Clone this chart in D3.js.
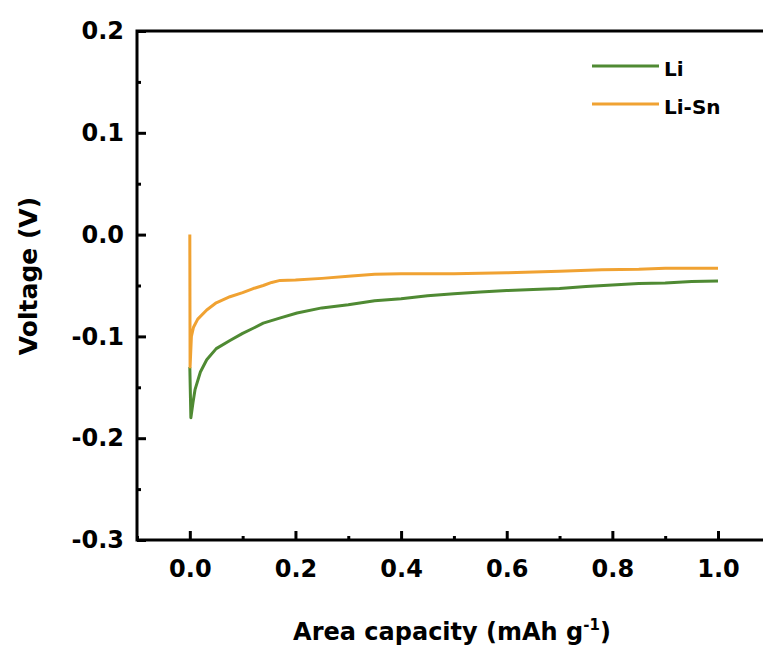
<!DOCTYPE html>
<head>
  <meta charset="utf-8">
  <style>
    body { margin: 0; background: #fff; }
    .axis path, .axis line { stroke: #000; stroke-width: 3; }
    .axis text { font-family: "DejaVu Sans", sans-serif; font-weight: bold; font-size: 24px; fill: #000; }
    .label { font-family: "DejaVu Sans", sans-serif; font-weight: bold; font-size: 24px; fill: #000; }
  </style>
  <script src="https://d3js.org/d3.v7.min.js" charset="utf-8"></script>
</head>
<body>
  <script>

    // Li (green)
    const liX = [0, 0.002, 0.006, 0.01, 0.02, 0.032, 0.05, 0.076, 0.1, 0.12, 0.139, 0.17, 0.203, 0.25, 0.3, 0.35,
                 0.4, 0.45, 0.5, 0.55, 0.6, 0.65, 0.7, 0.75, 0.8, 0.85, 0.9, 0.95, 1.0];
    const liY = [-0.13, -0.18, -0.165, -0.152, -0.135, -0.123, -0.112, -0.104, -0.097, -0.092, -0.087, -0.082, -0.077,
                 -0.072, -0.069, -0.065, -0.063, -0.060, -0.058, -0.0565, -0.055, -0.054, -0.053,
                 -0.051, -0.0495, -0.048, -0.0475, -0.046, -0.0455];

    // Li-Sn (orange)
    const snX = [0, 0.0005, 0.003, 0.007, 0.015, 0.032, 0.05, 0.076, 0.1, 0.12, 0.139, 0.155, 0.171, 0.2, 0.25, 0.3,
                 0.35, 0.4, 0.5, 0.6, 0.7, 0.78, 0.85, 0.9, 1.0];
    const snY = [0.0, -0.13, -0.10, -0.091, -0.083, -0.074, -0.067, -0.061, -0.057, -0.053, -0.050, -0.047, -0.045,
                 -0.0445, -0.043, -0.041, -0.039, -0.0385, -0.0385, -0.0375, -0.036, -0.0345, -0.034,
                 -0.033, -0.033];

    const seriesNames = ['Li', 'Li-Sn'];
    const seriesColors = ['#4f8a33', '#f0a232'];
    const xTicks = [0, 0.2, 0.4, 0.6, 0.8, 1.0];
    const yTicks = [0.2, 0.1, 0.0, -0.1, -0.2, -0.3];

    const w = 763, h = 651;
    const mLeft = 137, mTop = 31, mBottom = 540;

    // plain hyphen for negatives, as in the original
    const fmt = d => d.toFixed(1).replace('\u2212', '-');

    const svg = d3.select('body').append('svg')
      .attr('width', w)
      .attr('height', h);

    const xScale = d3.scaleLinear().domain([-0.1, 1.0]).range([mLeft, 718]);
    const yScale = d3.scaleLinear().domain([-0.3, 0.2]).range([mBottom, mTop]);
    const mRight = xScale(1.1);

    // frame (right side falls outside the picture)
    svg.append('rect')
      .attr('x', mLeft).attr('y', mTop)
      .attr('width', mRight - mLeft).attr('height', mBottom - mTop)
      .attr('fill', 'none').attr('stroke', '#000').attr('stroke-width', 3);

    // minor ticks
    const xMinor = [-0.1, 0.1, 0.3, 0.5, 0.7, 0.9];
    svg.append('g').attr('class', 'axis')
      .attr('transform', `translate(0, ${mBottom})`)
      .call(d3.axisBottom(xScale).tickValues(xMinor).tickSize(-4).tickFormat(''))
      .call(g => g.select('.domain').remove());
    const yMinor = [0.15, 0.05, -0.05, -0.15, -0.25];
    svg.append('g').attr('class', 'axis')
      .attr('transform', `translate(${mLeft}, 0)`)
      .call(d3.axisLeft(yScale).tickValues(yMinor).tickSize(-4).tickFormat(''))
      .call(g => g.select('.domain').remove());

    const xAxis = d3.axisBottom(xScale).tickValues(xTicks).tickSize(-9).tickPadding(20)
      .tickFormat(fmt);
    svg.append('g').attr('class', 'x axis')
      .attr('transform', `translate(0, ${mBottom})`)
      .call(xAxis)
      .call(g => g.select('.domain').remove());

    const yAxis = d3.axisLeft(yScale).tickValues(yTicks).tickSize(-9).tickPadding(13)
      .tickFormat(fmt);
    svg.append('g').attr('class', 'y axis')
      .attr('transform', `translate(${mLeft}, 0)`)
      .call(yAxis)
      .call(g => g.select('.domain').remove());

    const line = d3.line().x(d => xScale(d[0])).y(d => yScale(d[1]));
    const series = [d3.zip(liX, liY), d3.zip(snX, snY)];

    svg.append('g').selectAll('path')
      .data(series)
      .enter().append('path')
      .attr('d', line)
      .attr('fill', 'none')
      .attr('stroke', (d, i) => seriesColors[i])
      .attr('stroke-width', 3)
      .attr('stroke-linejoin', 'round');

    // legend
    const legend = svg.append('g').selectAll('g')
      .data(seriesNames)
      .enter().append('g')
      .attr('transform', (d, i) => `translate(592, ${66 + i * 38})`);
    legend.append('line')
      .attr('x1', 0).attr('x2', 67)
      .attr('stroke', (d, i) => seriesColors[i])
      .attr('stroke-width', 3);
    legend.append('text')
      .attr('class', 'label')
      .attr('x', 72).attr('y', 10)
      .style('font-size', '20px')
      .text(d => d);

    // axis titles
    svg.append('text')
      .attr('class', 'label')
      .attr('text-anchor', 'middle')
      .style('font-size', '25px')
      .attr('transform', `translate(37, 276) rotate(-90)`)
      .text('Voltage (V)');

    const xt = svg.append('text')
      .attr('class', 'label')
      .attr('text-anchor', 'middle')
      .attr('x', 452).attr('y', 640);
    xt.append('tspan').text('Area capacity (mAh g');
    xt.append('tspan').attr('dy', -10).style('font-size', '15px').text('-1');
    xt.append('tspan').attr('dy', 10).text(')');

  </script>
</body>
